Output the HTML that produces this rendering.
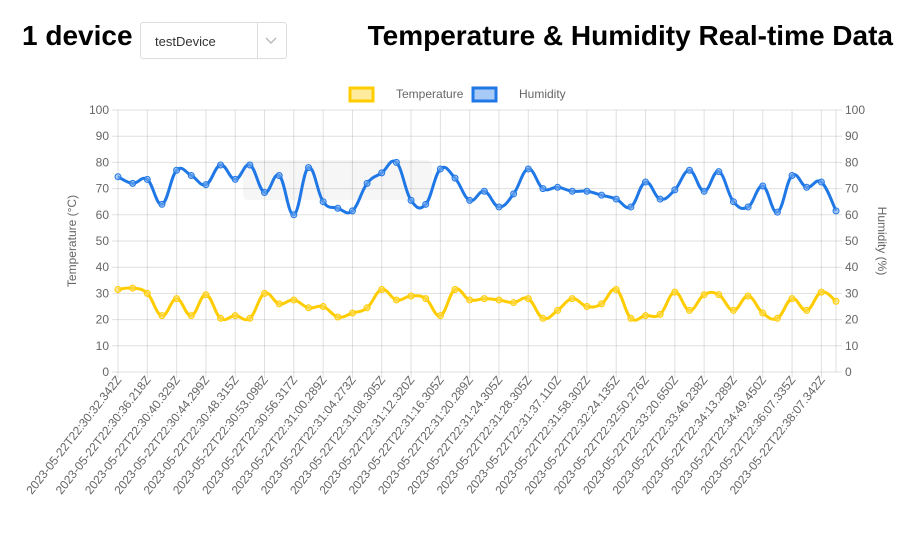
<!DOCTYPE html>
<html><head><meta charset="utf-8"><style>
body{margin:0;width:910px;height:534px;background:#fff;font-family:"Liberation Sans",sans-serif;overflow:hidden;position:relative}
.h{position:absolute;font-weight:bold;font-size:28px;color:#000;top:20px}
.sel{position:absolute;left:140px;top:22px;width:147px;height:37px;border:1px solid #ddd;border-radius:3px;box-sizing:border-box}
.sel span{position:absolute;left:14px;top:11px;font-size:13px;color:#333}
.sel i{position:absolute;left:116px;top:0;width:1px;height:35px;background:#ddd}
</style></head><body>
<div class="h" style="left:22px">1 device</div>
<div class="sel"><span>testDevice</span><i></i>
<svg style="position:absolute;left:124px;top:14px" width="12" height="8"><polyline points="1,1 6,6 11,1" fill="none" stroke="#bbb" stroke-width="1.5"/></svg></div>
<div class="h" style="right:17px">Temperature &amp; Humidity Real-time Data</div>
<svg id="c" width="910" height="534" style="position:absolute;left:0;top:0" font-family="Liberation Sans, sans-serif"></svg>
<script>
const H=[74.5,72,73.5,64,77,75,71.5,79,73.5,79,68.5,75,60,78,65,62.5,61.5,72,76,80,65.5,64,77.5,74,65.5,69,63,68,77.5,70,70.5,69,69,67.5,66,63,72.5,66,69.5,77,69,76.5,65,63,71,61,75,70.5,72.5,61.5];
const T=[31.5,32,30,21.5,28,21.5,29.5,20.5,21.5,20.5,30,26,27.5,24.5,25,21,22.5,24.5,31.5,27.5,29,28,21.5,31.5,27.5,28,27.5,26.5,28,20.5,23.5,28,25,26,31.5,20.5,21.5,22,30.5,23.5,29.5,29.5,23.5,29,22.5,20.5,28,23.5,30.5,27];
const L=["30:32.342","30:36.218","30:40.329","30:44.299","30:48.315","30:53.098","30:56.317","31:00.289","31:04.273","31:08.305","31:12.320","31:16.305","31:20.289","31:24.305","31:28.305","31:37.110","31:58.302","32:24.135","32:50.276","33:20.650","33:46.238","34:13.289","34:49.450","36:07.335","38:07.342"];
const x0=118,x1=836,yt=110,yb=372,dx=(x1-x0)/49;
const X=i=>x0+i*dx,Y=v=>yb-(v/100)*(yb-yt);
let s='';
s+='<rect x="243" y="160" width="189" height="40" rx="5" fill="rgba(0,0,0,0.035)"/>';
for(let k=0;k<=10;k++){const y=Y(k*10);s+=`<line x1="112" x2="842" y1="${y}" y2="${y}" stroke="rgba(0,0,0,0.12)"/>`;
s+=`<text x="109" y="${y+4}" text-anchor="end" font-size="12" fill="#666">${k*10}</text><text x="845" y="${y+4}" font-size="12" fill="#666">${k*10}</text>`;}
for(let i=0;i<25;i++){const x=X(2*i);s+=`<line x1="${x}" x2="${x}" y1="${yt}" y2="${yb+6}" stroke="rgba(0,0,0,0.12)"/>`;
s+=`<text transform="translate(${x+4},${yb+8}) rotate(-52)" text-anchor="end" font-size="12" fill="#666">2023-05-22T22:${L[i]}Z</text>`;}
s+=`<line x1="${x1}" x2="${x1}" y1="${yt}" y2="${yb}" stroke="rgba(0,0,0,0.12)"/>`;
function path(D){const P=D.map((v,i)=>[X(i),Y(v)]);let d=`M${P[0][0]},${P[0][1]}`;const t=0.4;
for(let i=0;i<P.length-1;i++){const p0=P[i-1]||P[i],p1=P[i],p2=P[i+1],p3=P[i+2]||p2;
const c1=[p1[0]+(p2[0]-p0[0])*t/2,p1[1]+(p2[1]-p0[1])*t/2],c2=[p2[0]-(p3[0]-p1[0])*t/2,p2[1]-(p3[1]-p1[1])*t/2];
d+=`C${c1[0]},${c1[1]} ${c2[0]},${c2[1]} ${p2[0]},${p2[1]}`;}return d;}
function series(D,c,f){s+=`<path d="${path(D)}" fill="none" stroke="${c}" stroke-width="3"/>`;
D.forEach((v,i)=>{s+=`<circle cx="${X(i)}" cy="${Y(v)}" r="3" fill="${f}" stroke="${c}" stroke-width="1"/>`;});}
series(T,"#ffcc00","rgba(255,220,90,0.6)");series(H,"#1f78e6","rgba(120,170,240,0.6)");
s+='<rect x="350" y="88" width="23" height="13" fill="rgba(255,215,60,0.5)" stroke="#ffcc00" stroke-width="3"/><text x="396" y="98" font-size="12" fill="#666">Temperature</text>';
s+='<rect x="473" y="88" width="23" height="13" fill="rgba(80,150,240,0.5)" stroke="#1f78e6" stroke-width="3"/><text x="519" y="98" font-size="12" fill="#666">Humidity</text>';
s+='<text transform="translate(76,241) rotate(-90)" text-anchor="middle" font-size="12" fill="#666">Temperature (°C)</text>';
s+='<text transform="translate(878,241) rotate(90)" text-anchor="middle" font-size="12" fill="#666">Humidity (%)</text>';
document.getElementById('c').innerHTML=s;
</script>
</body></html>
